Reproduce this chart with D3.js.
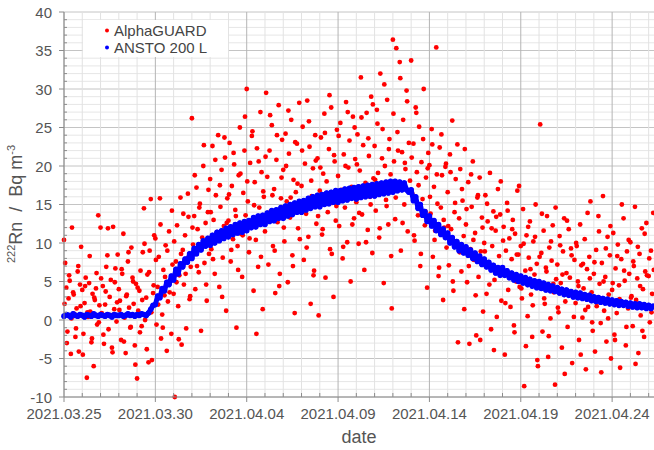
<!DOCTYPE html>
<html><head><meta charset="utf-8">
<script src="https://cdn.jsdelivr.net/npm/d3@7"></script>
<style>
html,body{margin:0;padding:0;background:#fff;}
svg{display:block;font-family:"Liberation Sans",Arial,sans-serif;}
</style></head>
<body><svg id="c" width="654" height="450"></svg>
<script>
// ---- data ----
const seriesNames = ["AlphaGUARD", "ANSTO 200 L"];
const startDate = Date.UTC(2021, 2, 25);     // 2021.03.25 00:00
const endDate = Date.UTC(2021, 3, 26, 7);    // right edge of plot
const yTicks = [-10, -5, 0, 5, 10, 15, 20, 25, 30, 35, 40];
const xTickLabels = ["2021.03.25","2021.03.30","2021.04.04","2021.04.09","2021.04.14","2021.04.19","2021.04.24"];

// AlphaGUARD, Bq m-3, samples every 1.5 h from 03.25 00:00 (16 per day, one row per day)
const redWeek1 = [
 10.4,7.4,4.2,-1.5,2.8,5.1,-4.4,12.0,3.6,0.8,-2.2,1.5,6.3,-4.1,4.6,9.5,
 3.9,-1.8,2.2,5.5,-7.5,0.4,4.8,1.1,-2.9,3.4,-6.0,2.6,4.1,-0.6,13.6,1.9,
 12.0,0.9,4.4,-3.1,2.0,6.9,8.4,-1.2,3.0,5.2,-3.6,12.1,1.4,6.7,-0.2,8.5,
 4.0,2.5,-2.6,6.0,11.2,0.3,-4.3,3.3,7.6,1.6,-1.0,9.4,5.5,2.1,-3.3,4.7,
 -7.6,1.2,3.8,6.4,-0.8,8.8,14.5,0.0,2.9,5.9,-5.5,9.0,15.7,-5.2,3.5,11.0,
 10.6,-0.6,4.3,8.2,15.8,-2.4,0.7,6.5,3.2,9.7,-4.0,2.4,11.5,5.0,-1.8,7.2,
 3.4,-10.0,7.6,12.3,1.8,5.8,15.9,-3.2,9.1,4.6,11.0,-1.1,8.0,13.4,2.7,6.9,
 26.2,9.8,13.5,4.0,17.2,11.8,6.2,15.1,-1.4,10.7,20.0,7.4,12.6,2.5,14.0,8.6
];
const redWeek2 = [
 18.3,9.2,22.6,13.0,6.0,16.2,11.4,24.0,4.3,14.7,19.5,8.1,12.2,21.1,1.2,15.8,
 12.9,23.0,7.6,17.4,10.5,20.2,14.3,-1.0,9.6,18.8,25.0,11.2,5.6,16.5,22.0,13.6,
 30.0,15.4,8.8,20.4,12.0,24.5,3.8,17.9,10.4,22.3,6.9,14.6,27.0,19.2,1.4,16.0,
 11.5,29.5,18.6,7.2,22.0,14.1,25.3,9.6,17.0,3.5,20.8,12.7,27.9,6.0,15.8,23.4,
 19.5,10.2,24.2,15.4,4.9,21.6,13.3,26.0,8.4,18.2,0.9,16.6,22.9,11.9,28.2,14.8,
 17.4,25.1,7.8,20.3,13.8,28.5,10.8,22.5,2.1,16.1,19.7,6.4,24.0,12.5,21.0,0.6,
 16.8,23.7,11.1,19.0,26.8,5.5,18.0,14.0,22.2,9.2,27.6,15.2,3.0,20.6,12.9,24.7,
 18.7,12.2,25.6,16.9,8.0,21.5,14.6,28.3,10.1,19.8,23.3,5.0,17.3,26.4,13.2,20.9
];
const redWeek3 = [
 15.3,24.1,9.9,19.4,31.5,13.7,22.7,6.5,17.8,26.9,11.7,21.3,16.0,29.0,8.7,18.4,
 22.6,14.2,27.3,19.1,10.7,32.0,17.6,24.8,4.8,20.0,15.6,28.6,12.4,23.5,18.9,1.5,
 36.4,20.6,13.1,35.3,24.4,17.0,33.5,9.0,21.8,26.0,15.0,19.6,29.8,11.5,23.0,18.1,
 33.7,16.4,22.9,10.3,27.6,19.2,13.6,25.1,7.0,20.5,15.7,30.0,12.3,18.5,4.2,21.7,
 20.1,13.8,24.8,8.2,17.3,11.6,35.4,15.1,5.7,22.4,14.6,18.8,2.6,12.0,19.9,9.4,
 16.6,7.1,21.5,11.8,25.9,3.8,14.0,18.3,9.7,-2.9,13.2,19.6,6.3,15.5,10.9,22.2,
 12.4,4.9,17.9,-3.1,9.2,14.7,20.6,7.8,11.3,-2.0,15.9,5.6,18.5,8.9,13.3,1.1,
 10.0,16.2,3.4,12.8,7.2,19.1,-1.2,9.6,14.1,5.2,11.6,0.4,17.0,8.3,13.7,2.5
];
const redWeek4 = [
 6.8,12.1,-4.5,9.0,15.2,3.9,10.6,1.7,7.9,13.0,-0.7,11.2,5.0,16.8,8.5,4.3,
 9.6,2.8,14.4,-8.6,6.4,11.0,0.5,8.1,12.8,3.3,-2.2,10.2,5.9,15.0,7.3,-6.0,
 4.4,25.4,8.7,-1.5,11.6,2.1,6.8,13.5,-4.8,9.4,0.2,7.7,12.3,3.6,-8.4,5.3,
 7.2,1.0,10.9,4.8,-3.6,8.9,13.2,2.4,6.1,-0.9,11.8,5.5,9.3,-5.6,3.0,7.8,
 2.2,9.6,5.0,-2.6,12.4,7.1,0.3,4.1,10.5,-6.4,6.6,1.7,8.2,15.4,3.6,-1.4,
 6.0,-4.1,9.1,2.9,13.5,4.7,-0.4,7.4,16.1,1.2,5.6,-2.8,10.8,3.3,8.4,-5.0,
 3.9,11.3,-1.9,6.7,0.9,9.8,4.5,-6.2,7.9,2.3,13.2,5.1,-3.3,8.9,1.5,6.0,
 10.1,3.1,-0.8,7.0,14.7,2.6,5.4,-4.3,8.6,0.6,11.9,4.0,-2.2,6.3,12.6,1.9,
 5.7,-0.3,9.0,3.4,13.9
];
// AlphaGUARD, interleaved samples every 3 h from 03.25 00:45 (8 per day)
const redWeek1b = [
 2.1,-3.0,5.8,0.2,3.3,-1.1,7.0,1.8,
 -4.5,4.4,1.0,8.3,-2.4,2.9,6.1,-0.3,
 5.4,-1.9,3.7,11.9,0.6,-4.2,4.9,2.3,
 1.3,6.6,-2.8,3.1,8.8,-0.9,5.0,-5.8,
 4.2,-1.6,2.6,9.9,-3.8,6.2,1.0,4.5,
 7.8,2.0,12.4,-1.0,5.6,9.0,3.6,14.2,
 10.2,4.9,-2.5,8.6,13.8,6.0,16.4,3.1,
 12.0,18.8,7.0,14.6,9.3,22.7,4.6,16.9
];
const redWeek2b = [
 14.0,7.9,20.8,10.8,17.5,3.0,23.7,12.6,
 16.3,9.1,21.7,13.5,6.5,19.0,11.0,26.4,
 18.0,10.6,23.9,14.9,-1.8,20.6,8.2,16.7,
 21.2,13.0,26.6,16.2,9.0,24.0,4.4,18.5,
 12.0,20.0,27.2,15.9,7.0,23.1,17.7,10.5,
 22.0,15.0,9.4,25.8,18.1,5.8,20.7,13.5,
 19.8,11.8,24.3,16.4,29.2,8.6,21.4,14.8,
 23.9,15.6,9.5,20.0,27.0,17.1,12.4,25.0
];
const redWeek3b = [
 20.2,13.9,26.3,17.2,10.1,23.6,15.0,28.0,
 18.2,25.5,11.9,21.0,30.6,14.8,22.2,8.3,
 26.8,15.9,22.0,31.4,12.6,20.4,28.4,16.7,
 21.1,11.0,26.9,17.5,8.6,23.5,14.1,19.7,
 16.0,22.8,10.4,18.9,6.8,24.1,13.0,20.3,
 12.2,19.2,5.0,15.2,22.8,8.8,17.0,1.4,
 14.4,7.0,18.9,10.4,3.2,16.2,-2.6,12.0,
 8.9,15.1,4.6,11.9,-3.9,13.4,6.7,18.0
];
const redWeek4b = [
 10.3,2.2,14.2,6.0,11.8,-1.6,8.5,17.4,
 4.1,9.9,-3.4,12.1,6.6,1.9,10.8,-5.2,
 8.2,13.8,2.8,6.3,-2.1,10.2,4.7,14.6,
 1.6,9.7,5.9,-7.0,12.9,3.4,8.4,0.4,
 10.0,4.4,-4.5,7.3,1.3,13.9,5.4,-0.3,
 7.5,1.8,11.5,-6.8,5.0,9.3,0.2,12.2,
 4.8,-2.6,8.3,2.7,15.0,6.4,-0.9,10.4,
 2.9,7.6,-5.7,9.5,4.4,-1.4,11.2,5.8,
 8.0,1.0,6.5
];

// ANSTO 200 L, Bq m-3, samples every 3 h from 03.25 00:00 (8 per day)
const blueWeek1 = [
 0.5,0.7,0.6,0.4,0.8,0.6,0.5,0.7,
 0.6,0.4,0.7,0.6,0.5,0.8,0.6,0.5,
 0.7,0.6,0.5,0.7,0.6,0.4,0.7,0.6,
 0.6,0.7,0.5,0.6,0.8,0.6,0.7,0.5,
 0.7,0.6,0.8,0.7,0.6,0.9,1.4,1.9,
 2.0,3.1,2.9,4.1,3.8,4.9,4.6,5.7,
 5.2,6.6,6.0,7.3,6.9,7.9,7.5,8.6,
 8.0,9.3,8.6,9.8,9.1,10.3,9.6,10.6
];
const blueWeek2 = [
 9.7,11.0,10.0,11.4,10.3,11.6,10.6,11.9,
 10.8,12.1,11.1,12.4,11.3,12.6,11.4,12.8,
 11.6,12.9,12.0,13.3,12.1,13.5,12.4,13.6,
 12.4,13.9,12.8,14.2,12.9,14.3,13.2,14.6,
 13.2,14.8,13.5,15.0,13.7,15.2,14.0,15.4,
 14.0,15.5,14.3,15.8,14.5,16.0,14.7,16.2,
 14.7,16.3,15.0,16.5,15.1,16.6,15.3,16.8,
 15.3,16.8,15.5,17.0,15.6,17.1,15.8,17.2
];
const blueWeek3 = [
 15.7,17.3,15.9,17.4,16.0,17.5,16.1,17.6,
 16.1,17.7,16.3,17.8,16.4,17.9,16.5,18.0,
 16.6,18.0,16.8,17.9,16.9,17.8,16.9,16.6,
 16.9,15.5,16.0,14.5,15.0,13.6,14.1,12.8,
 13.5,12.2,12.9,11.6,12.4,11.1,11.8,10.7,
 11.3,10.0,10.7,9.5,10.2,9.0,9.8,8.7,
 9.5,8.4,9.1,8.0,8.7,7.6,8.3,7.2,
 7.9,6.9,7.5,6.5,7.1,6.1,6.8,5.8
];
const blueWeek4 = [
 6.8,5.8,6.4,5.5,6.1,5.2,5.9,5.0,
 5.7,4.8,5.5,4.6,5.3,4.4,5.1,4.2,
 5.0,4.1,4.8,3.9,4.6,3.8,4.4,3.7,
 4.2,3.5,4.0,3.3,3.9,3.2,3.7,3.0,
 3.6,2.9,3.5,2.8,3.3,2.7,3.2,2.5,
 3.0,2.4,2.9,2.3,2.8,2.2,2.7,2.1,
 2.6,2.0,2.5,1.9,2.4,1.9,2.3,1.8,
 2.2,1.7,2.1,1.6,2.1,1.6,2.0,1.5,
 1.9,1.5,1.8
];

// ---- build ----
const H = 3600e3;
const redA = [].concat(redWeek1, redWeek2, redWeek3, redWeek4)
  .map((v,i)=>({t:new Date(startDate + i*1.5*H), v}));
const redB = [].concat(redWeek1b, redWeek2b, redWeek3b, redWeek4b)
  .map((v,i)=>({t:new Date(startDate + 0.75*H + i*3*H), v}));
const red = redA.concat(redB);
const blue = [].concat(blueWeek1, blueWeek2, blueWeek3, blueWeek4)
  .map((v,i)=>({t:new Date(startDate + i*3*H), v}));

const svg = d3.select("#c");
const m = {l:64, r:654, t:12, b:397};
const x = d3.scaleUtc().domain([new Date(startDate), new Date(endDate)]).range([m.l, m.r]);
const y = d3.scaleLinear().domain([-10, 40]).range([m.b, m.t]);

svg.append("rect").attr("width",654).attr("height",450).attr("fill","#fff");

const days = d3.utcDay.range(new Date(startDate), new Date(endDate));
const g = svg.append("g");
g.selectAll(".hm").data(d3.range(-10, 41, 1)).join("line")
  .attr("x1", m.l).attr("x2", m.r).attr("y1", d=>y(d)).attr("y2", d=>y(d))
  .attr("stroke", d=> d%5===0 ? "#c4c4c4" : "#e6e6e6").attr("stroke-width",1);
g.selectAll(".vm").data(days).join("line")
  .attr("x1", d=>x(d)).attr("x2", d=>x(d)).attr("y1", m.t).attr("y2", m.b)
  .attr("stroke", (d,i)=> i%5===0 ? "#b4b4b4" : "#e2e2e2").attr("stroke-width",1);

// AlphaGUARD points
svg.append("g").selectAll("circle").data(red).join("circle")
  .attr("cx", d=>x(d.t)).attr("cy", d=>y(d.v)).attr("r", 2.4).attr("fill", "#f00");

// ANSTO band
svg.append("path").datum(blue)
  .attr("d", d3.line().x(d=>x(d.t)).y(d=>y(d.v)))
  .attr("fill","none").attr("stroke","#0000ff").attr("stroke-width",5).attr("stroke-linejoin","round");
svg.append("g").selectAll("circle").data(blue).join("circle")
  .attr("cx", d=>x(d.t)).attr("cy", d=>y(d.v)).attr("r", 2.8).attr("fill", "#0000ff");

// axes
const axCol = "#8c8c8c";
svg.append("line").attr("x1",m.l).attr("x2",m.l).attr("y1",m.t).attr("y2",m.b).attr("stroke",axCol);
svg.append("line").attr("x1",m.l).attr("x2",m.r).attr("y1",m.b).attr("y2",m.b).attr("stroke",axCol);
svg.append("g").selectAll("line").data(d3.range(-10,41,1)).join("line")
  .attr("x1", d=> d%5===0 ? m.l-5 : m.l).attr("x2", d=> d%5===0 ? m.l : m.l+3)
  .attr("y1", d=>y(d)).attr("y2", d=>y(d)).attr("stroke", axCol);
svg.append("g").selectAll("text").data(yTicks).join("text")
  .attr("x", 52).attr("y", d=>y(d)+5.5).attr("text-anchor","end")
  .attr("font-size",15).attr("fill","#555").text(d=>d);
svg.append("g").selectAll("line").data(days).join("line")
  .attr("x1", d=>x(d)).attr("x2", d=>x(d))
  .attr("y1", (d,i)=> i%5===0 ? m.b+5 : m.b).attr("y2", (d,i)=> i%5===0 ? m.b : m.b-4)
  .attr("stroke", axCol);
const majorDays = days.filter((d,i)=>i%5===0);
svg.append("g").selectAll("text").data(majorDays).join("text")
  .attr("x", d=>x(d)).attr("y", 419).attr("text-anchor","middle")
  .attr("font-size",15).attr("fill","#555").text((d,i)=>xTickLabels[i]);

// axis titles
svg.append("text").attr("x", 359).attr("y", 443).attr("text-anchor","middle")
  .attr("font-size",18).attr("fill","#555").text("date");
const yl = svg.append("text").attr("transform","translate(22,204) rotate(-90)")
  .attr("text-anchor","middle").attr("font-size",18).attr("fill","#555")
  .attr("xml:space","preserve").style("white-space","pre");
yl.append("tspan").attr("font-size",11).attr("dy",-7).text("222");
yl.append("tspan").attr("dy",7).text("Rn  /  Bq m");
yl.append("tspan").attr("font-size",11).attr("dy",-7).text("-3");

// legend
const lg = svg.append("g");
lg.append("rect").attr("x",83).attr("y",20).attr("width",145).attr("height",37).attr("fill","#fff");
const colors = ["#f00","#0000ff"];
seriesNames.forEach((n,i)=>{
  lg.append("circle").attr("cx",107).attr("cy",30.5+i*17).attr("r",2).attr("fill",colors[i]);
  lg.append("text").attr("x",114).attr("y",35.5+i*17).attr("font-size",15).attr("fill","#444").text(n);
});
</script></body></html>
